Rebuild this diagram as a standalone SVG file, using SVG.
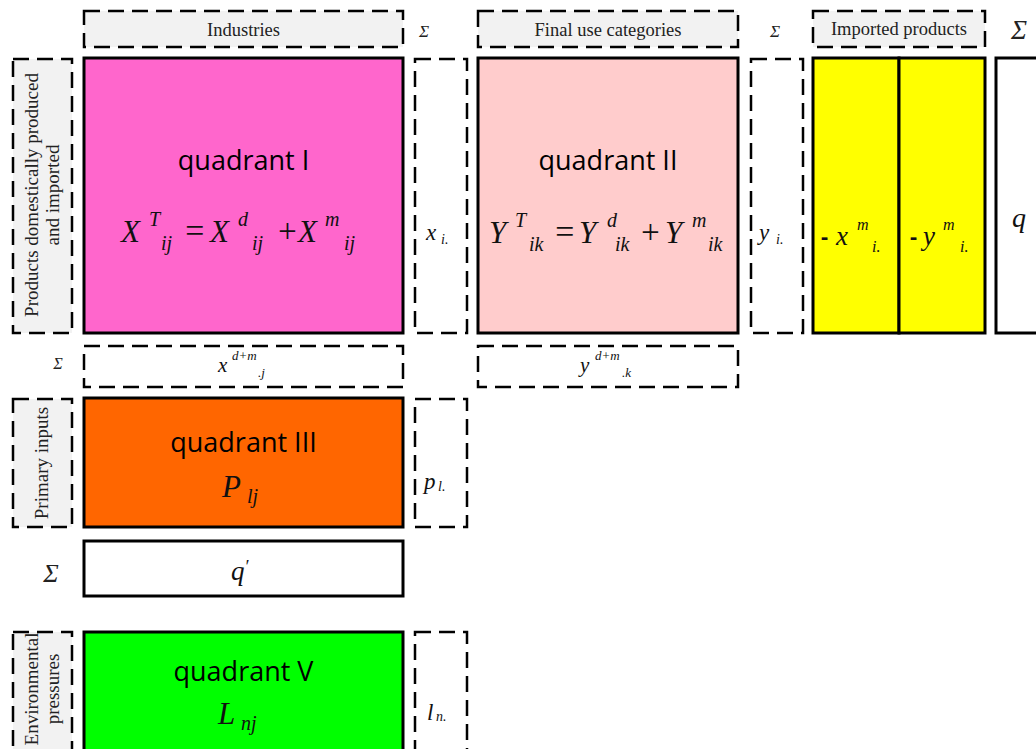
<svg xmlns="http://www.w3.org/2000/svg" width="1036" height="749" viewBox="0 0 1036 749">
<style>
.solid{stroke:#000;stroke-width:3}
.dash{fill:#fff;stroke:#000;stroke-width:2.5;stroke-dasharray:16 8}
.hdr{fill:#f2f2f2}
.lbl{font-family:"Liberation Serif","Times New Roman",serif;font-size:18.5px;fill:#222}
.rl{font-size:19px}
.quad{font-family:"Open Sans","Noto Sans",sans-serif;font-size:27px;fill:#000;text-anchor:middle}
.m{font-family:"Liberation Serif","Times New Roman",serif;font-style:italic;fill:#111}
.sig{font-family:"Liberation Serif","Times New Roman",serif;font-style:italic;fill:#222}
.dashc{font-family:"Open Sans","Noto Sans",sans-serif;font-weight:bold;fill:#111}
</style>
<rect width="1036" height="749" fill="#fff"/>

<g id="header-industries">
<rect class="dash hdr" x="84" y="11" width="319" height="36"/>
<text class="lbl" x="243.5" y="36" text-anchor="middle">Industries</text>
</g>
<g id="header-sum1"><text class="sig" x="424" y="37" font-size="17" text-anchor="middle">Σ</text></g>
<g id="header-final">
<rect class="dash hdr" x="478" y="11" width="260" height="36"/>
<text class="lbl" x="608" y="36" text-anchor="middle">Final use categories</text>
</g>
<g id="header-sum2"><text class="sig" x="775" y="37" font-size="17" text-anchor="middle">Σ</text></g>
<g id="header-imported">
<rect class="dash hdr" x="813" y="11" width="172" height="36"/>
<text class="lbl" x="899" y="35" text-anchor="middle">Imported products</text>
</g>
<g id="header-sum3"><text class="sig" x="1019" y="39" font-size="27" text-anchor="middle">Σ</text></g>

<g id="label-products">
<rect class="dash hdr" x="13" y="59" width="59" height="274"/>
<text class="lbl rl" transform="translate(0,195) rotate(-90)" text-anchor="middle"><tspan x="0" y="38">Products domestically produced</tspan><tspan x="0" y="59">and imported</tspan></text>
</g>

<g id="quadrant-1">
<rect class="solid" x="84" y="58" width="319" height="275" fill="#ff66cc"/>
<text class="quad" x="243.5" y="170">quadrant I</text>
<text class="m" font-size="31"><tspan x="121" y="242">X</tspan><tspan x="149" y="226" font-size="20">T</tspan><tspan x="161" y="250" font-size="20">ij</tspan><tspan x="183" y="242" font-size="34">=</tspan><tspan x="210" y="242">X</tspan><tspan x="238" y="226" font-size="20">d</tspan><tspan x="252" y="250" font-size="20">ij</tspan><tspan x="276" y="242" font-size="33">+</tspan><tspan x="298" y="242">X</tspan><tspan x="325" y="226" font-size="20">m</tspan><tspan x="344" y="250" font-size="20">ij</tspan></text>
</g>

<g id="sum-x">
<rect class="dash" x="415" y="59" width="52" height="274"/>
<text class="m"><tspan x="426" y="240" font-size="23">x</tspan><tspan x="441" y="244" font-size="14">i.</tspan></text>
</g>

<g id="quadrant-2">
<rect class="solid" x="478" y="58" width="260" height="275" fill="#ffcccc"/>
<text class="quad" x="608" y="170">quadrant II</text>
<text class="m" font-size="31"><tspan x="489" y="243">Y</tspan><tspan x="515" y="227" font-size="20">T</tspan><tspan x="529" y="251" font-size="20">ik</tspan><tspan x="553" y="243" font-size="34">=</tspan><tspan x="579" y="243">Y</tspan><tspan x="607" y="227" font-size="20">d</tspan><tspan x="615" y="251" font-size="20">ik</tspan><tspan x="639" y="243" font-size="33">+</tspan><tspan x="665" y="243">Y</tspan><tspan x="692" y="227" font-size="20">m</tspan><tspan x="708" y="251" font-size="20">ik</tspan></text>
</g>

<g id="sum-y">
<rect class="dash" x="751" y="59" width="52" height="274"/>
<text class="m"><tspan x="759" y="240" font-size="23">y</tspan><tspan x="776" y="244" font-size="14">i.</tspan></text>
</g>

<g id="imported-x">
<rect class="solid" x="813" y="58" width="86" height="275" fill="#ffff00"/>
<text><tspan class="dashc" x="821" y="244" font-size="22">-</tspan><tspan class="m" x="836" y="245" font-size="27">x</tspan><tspan class="m" x="857" y="230" font-size="16">m</tspan><tspan class="m" x="872" y="252" font-size="16">i.</tspan></text>
</g>
<g id="imported-y">
<rect class="solid" x="899" y="58" width="86" height="275" fill="#ffff00"/>
<text><tspan class="dashc" x="910" y="244" font-size="22">-</tspan><tspan class="m" x="923" y="245" font-size="27">y</tspan><tspan class="m" x="943" y="230" font-size="16">m</tspan><tspan class="m" x="960" y="252" font-size="16">i.</tspan></text>
</g>

<g id="total-q">
<rect class="solid" x="996" y="58" width="60" height="275" fill="#fff"/>
<text class="m" x="1012" y="227" font-size="28">q</text>
</g>

<g id="row-sum-label"><text class="sig" x="58" y="369" font-size="16" text-anchor="middle">Σ</text></g>
<g id="sum-xdm">
<rect class="dash" x="84" y="346" width="319" height="41"/>
<text class="m"><tspan x="218" y="372" font-size="21">x</tspan><tspan x="232" y="360" font-size="13">d+m</tspan><tspan x="258" y="377" font-size="13">.j</tspan></text>
</g>
<g id="sum-ydm">
<rect class="dash" x="478" y="346" width="260" height="41"/>
<text class="m"><tspan x="580" y="372" font-size="21">y</tspan><tspan x="595" y="360" font-size="13">d+m</tspan><tspan x="622" y="377" font-size="13">.k</tspan></text>
</g>

<g id="label-primary">
<rect class="dash hdr" x="13" y="399" width="59" height="128"/>
<text class="lbl rl" transform="translate(0,463) rotate(-90)" text-anchor="middle" x="0" y="48">Primary inputs</text>
</g>

<g id="quadrant-3">
<rect class="solid" x="84" y="398" width="319" height="129" fill="#ff6600"/>
<text class="quad" x="243.5" y="452">quadrant III</text>
<text class="m" font-size="31"><tspan x="222" y="497">P</tspan><tspan x="247" y="503" font-size="20">lj</tspan></text>
</g>

<g id="sum-p">
<rect class="dash" x="415" y="399" width="52" height="128"/>
<text class="m"><tspan x="424" y="489" font-size="23">p</tspan><tspan x="438" y="491" font-size="14">l.</tspan></text>
</g>

<g id="col-sum-label"><text class="sig" x="51" y="582" font-size="26" text-anchor="middle">Σ</text></g>
<g id="total-q-prime">
<rect class="solid" x="84" y="541" width="319" height="55" fill="#fff"/>
<text class="m" x="231" y="580" font-size="27">q<tspan font-size="18" dy="-7">′</tspan></text>
</g>

<g id="label-env">
<rect class="dash hdr" x="13" y="632" width="59" height="130"/>
<text class="lbl rl" transform="translate(0,689) rotate(-90)" text-anchor="middle"><tspan x="0" y="38">Environmental</tspan><tspan x="0" y="59">pressures</tspan></text>
</g>

<g id="quadrant-5">
<rect class="solid" x="84" y="632" width="319" height="130" fill="#00ff00"/>
<text class="quad" x="243.5" y="681">quadrant V</text>
<text class="m" font-size="31"><tspan x="218" y="724">L</tspan><tspan x="241" y="730" font-size="20">nj</tspan></text>
</g>

<g id="sum-l">
<rect class="dash" x="415" y="632" width="52" height="130"/>
<text class="m"><tspan x="427" y="720" font-size="23">l</tspan><tspan x="436" y="721" font-size="14">n.</tspan></text>
</g>

<g id="connectors"></g>
</svg>
